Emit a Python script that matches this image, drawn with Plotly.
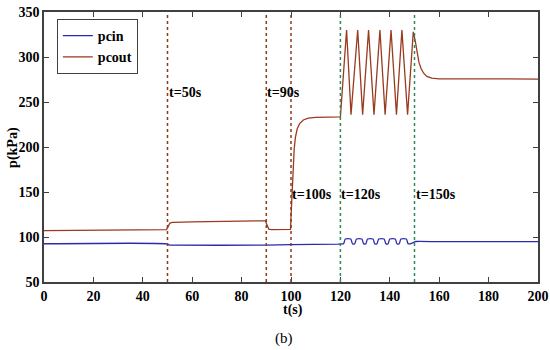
import plotly.graph_objects as go

# ---- data ----
pcin_t = [0, 49.5, 50.5, 52, 90, 100, 119, 120.5,
          121.3, 122.0, 124.2, 124.9, 125.8, 126.5, 128.7, 129.4, 130.3, 131.0, 133.2, 133.9,
          134.8, 135.5, 137.7, 138.4, 139.3, 140.0, 142.2, 142.9, 143.8, 144.5, 146.7, 147.4,
          148.6, 149.6, 150.5, 160, 200]
pcin_v = [92.5, 92.4, 91.3, 91.0, 91.0, 91.5, 92.0, 92.3,
          92.6, 97.8, 97.8, 92.6, 92.6, 97.8, 97.8, 92.6, 92.6, 97.8, 97.8, 92.6,
          92.6, 97.8, 97.8, 92.6, 92.6, 97.8, 97.8, 92.6, 92.6, 97.8, 97.8, 92.6,
          92.6, 94.0, 95.0, 94.8, 94.8]

pcout_t = [0, 48, 49.6, 50.1, 50.5, 51, 52, 60, 89.6, 90.1, 90.5, 91, 92, 99.8,
           100.3, 100.8, 101.3, 101.8, 102.5, 103.5, 105, 107, 110, 120,
           122.5, 124.3, 127.0, 129.0, 131.4, 133.6, 136.0, 138.1, 140.5, 142.7, 144.9, 147.2, 149.5,
           150.3, 151.0, 151.8, 152.7, 153.7, 155, 157, 160, 200]
pcout_v = [107, 107.8, 108.2, 111, 114, 115.5, 116.2, 116.8, 118, 114, 110.5, 108.8, 108.3, 108.5,
           140, 175, 198, 211, 220, 226, 230, 232, 233, 233.5,
           330, 236, 330, 236, 330, 236, 330, 236, 330, 236, 330, 236, 328,
           318, 305, 294, 287, 282, 278.5, 276.5, 275.8, 275.5]

event_t = [50, 90, 100, 120, 150]
event_label = ["t=50s", "t=90s", "t=100s", "t=120s", "t=150s"]
event_label_y = [261, 261, 147, 147, 147]
event_color = ["#8b3a1a", "#8b3a1a", "#8b3a1a", "#2e8b57", "#2e8b57"]

x_ticks = list(range(0, 201, 20))
y_ticks = list(range(50, 351, 50))

FONT = "Liberation Serif"
AX = "#404040"
BOLD = dict(family=FONT, size=14, color="black", weight="bold")

fig = go.Figure()
fig.add_trace(go.Scatter(x=pcin_t, y=pcin_v, mode="lines", name="pcin",
                         line=dict(color="#2a2ab0", width=1.3, shape="spline", smoothing=0.6)))
fig.add_trace(go.Scatter(x=pcout_t, y=pcout_v, mode="lines", name="pcout",
                         line=dict(color="#9a3a1e", width=1.3)))

for t, lab, ly, c in zip(event_t, event_label, event_label_y, event_color):
    fig.add_shape(type="line", xref="x", yref="paper", x0=t, x1=t, y0=0, y1=1,
                  line=dict(color=c, width=1.5, dash="dot"), layer="above")
    fig.add_annotation(x=t, y=ly, xref="x", yref="y", text=lab, showarrow=False,
                       xanchor="left", yanchor="middle", xshift=-1, font=BOLD)

axis_common = dict(showline=True, linecolor=AX, linewidth=1.5, mirror="ticks",
                   ticks="inside", ticklen=5, tickwidth=1.2, tickcolor=AX,
                   showgrid=False, zeroline=False, automargin=False,
                   ticklabeloverflow="allow", tickfont=BOLD)

fig.update_xaxes(range=[0, 200], tickvals=x_ticks, **axis_common)
fig.update_yaxes(range=[50, 350], tickvals=y_ticks, **axis_common)

# axis titles and panel label
fig.add_annotation(x=0.504, y=-0.104, xref="paper", yref="paper", xanchor="center", yanchor="middle",
                   text="t(s)", showarrow=False, font=BOLD)
fig.add_annotation(x=-0.063, y=0.5, xref="paper", yref="paper", xanchor="center", yanchor="middle",
                   text="p(kPa)", textangle=-90, showarrow=False, font=BOLD)
fig.add_annotation(x=0.486, y=-0.211, xref="paper", yref="paper", xanchor="center", yanchor="middle",
                   text="(b)", showarrow=False, font=dict(family=FONT, size=15, color="black"))

fig.update_layout(
    width=550, height=350,
    margin=dict(l=44, r=12, t=12, b=68),
    plot_bgcolor="white", paper_bgcolor="white",
    showlegend=True,
    legend=dict(x=0.026, y=0.974, xanchor="left", yanchor="top",
                bgcolor="white", bordercolor=AX, borderwidth=1,
                font=dict(family=FONT, size=14, color="black", weight="bold"),
                itemwidth=30, tracegroupgap=0),
)

# remove the browser's default 8px body margin so the figure sits at the page's top-left
fig.write_html("out.html", config={"displayModeBar": False},
               post_script="document.body.style.margin='0';document.body.style.overflow='hidden';")
